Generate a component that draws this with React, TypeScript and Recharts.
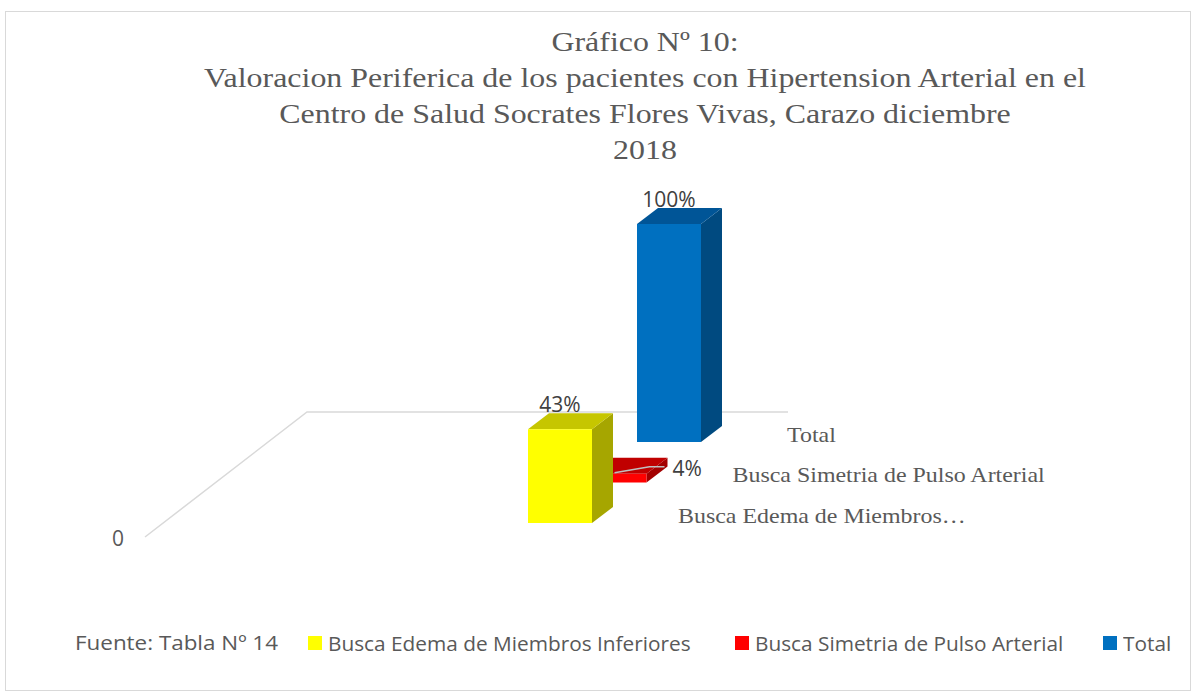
import React from 'react';
import { BarChart, Bar, XAxis, YAxis, ReferenceLine, LabelList } from 'recharts';

// series (Excel 3D column: one category, three series on the depth axis)
const SERIES = ['Busca Edema de Miembros Inferiores', 'Busca Simetria de Pulso Arterial', 'Total'];
const DEPTH_LABELS = ['Busca Edema de Miembros…', 'Busca Simetria de Pulso Arterial', 'Total'];
const VALUES = [0.43, 0.04, 1.0];
const CATEGORIES = ['Valoracion Periferica'];
const Y_TICKS = [0];

const FRONT = ['#FFFF00', '#FF0000', '#0070C0'];
const SIDE = ['#A6A600', '#A30000', '#004A80'];
const TOP = ['#C6C600', '#C00000', '#005597'];
const LABEL_MODE = ['top', 'right', 'top'];

const TITLE = [
  'Gráfico Nº 10:',
  'Valoracion Periferica de los pacientes con Hipertension Arterial en el',
  'Centro de Salud Socrates Flores Vivas, Carazo diciembre',
  '2018',
];
const SOURCE = 'Fuente: Tabla Nº 14';

const data = CATEGORIES.map((name) => {
  const row: Record<string, any> = { name };
  SERIES.forEach((s, i) => (row['s' + i] = VALUES[i]));
  return row;
});

// 3D projection
const BOX_DX = 21;
const BOX_DY = 16;
const STEP_X = 54.5;
const STEP_Y = 40.5;
const STRETCH = 1.14; // the original text is rendered a bit wide

const GRID = '#d9d9d9';
const TEXT = '#595959';
const SANS = '"Open Sans", "Liberation Sans", sans-serif';
const SERIF = '"Liberation Serif", "Times New Roman", serif';

const fmtPct = (v: number) => Math.round(v * 100) + '%';

const makeBox = (d: number) => (props: any) => {
  const { x, y, width, height } = props;
  const px = x + d * STEP_X;
  const py = y - d * STEP_Y;
  const r = px + width;
  const b = py + height;
  return (
    <g>
      <polygon
        points={`${r},${py} ${r + BOX_DX},${py - BOX_DY} ${r + BOX_DX},${b - BOX_DY} ${r},${b}`}
        fill={SIDE[d]}
      />
      <polygon
        points={`${px},${py} ${px + BOX_DX},${py - BOX_DY} ${r + BOX_DX},${py - BOX_DY} ${r},${py}`}
        fill={TOP[d]}
      />
      <rect x={px} y={py} width={width} height={height} fill={FRONT[d]} />
    </g>
  );
};

const makeValueLabel = (d: number) => (props: any) => {
  const { x, y, width, value } = props;
  const px = x + d * STEP_X;
  const py = y - d * STEP_Y;
  const cx = px + width / 2;
  if (LABEL_MODE[d] === 'right') {
    return (
      <g>
        <polyline
          points={`${cx},${py - 1} ${cx + 35},${py - 7} ${cx + 50},${py - 7}`}
          fill="none"
          stroke="#bfbfbf"
          strokeWidth={1.5}
        />
        <text x={cx + 58} y={py - 6} dominantBaseline="central" fill="#404040" fontFamily={SANS} fontSize={21}>
          {fmtPct(value)}
        </text>
      </g>
    );
  }
  return (
    <text x={cx} y={py - 25} textAnchor="middle" dominantBaseline="central" fill="#404040" fontFamily={SANS} fontSize={21}>
      {fmtPct(value)}
    </text>
  );
};

const makeDepthLabel = (d: number) => (props: any) => {
  const { x, y, width, height } = props;
  const px = x + d * STEP_X;
  const py = y - d * STEP_Y;
  return (
    <text
      transform={`translate(${px + width + 86},${py + height - 7}) scale(${STRETCH},1)`}
      dominantBaseline="central"
      fill={TEXT}
      fontFamily={SERIF}
      fontSize={21}
    >
      {DEPTH_LABELS[d]}
    </text>
  );
};

// floor / side wall edges of the 3D plot, plus the "0" tick
const Floor = (props: any) => {
  const { x1, y1 } = props;
  return (
    <g>
      <polyline
        points={`${x1},${y1 + 14} ${x1 + 162},${y1 - 111} ${x1 + 643},${y1 - 111}`}
        fill="none"
        stroke={GRID}
        strokeWidth={1.5}
      />
      <text x={x1 - 27} y={y1 + 15} textAnchor="middle" dominantBaseline="central" fill={TEXT} fontFamily={SANS} fontSize={21}>
        {Y_TICKS[0]}
      </text>
    </g>
  );
};

const order = [2, 1, 0]; // back to front
const LEGEND_LEFT = [308, 735, 1103];

export default function App() {
  return (
    <div style={{ position: 'absolute', left: 0, top: 0, width: 1193, height: 695, background: '#fff', overflow: 'hidden' }}>
      <div
        style={{
          position: 'absolute',
          left: 5,
          top: 11,
          width: 1184,
          height: 678,
          border: `1.5px solid ${GRID}`,
        }}
      />
      <div
        style={{
          position: 'absolute',
          left: 145,
          top: 24,
          width: 1000,
          textAlign: 'center',
          fontFamily: SERIF,
          fontSize: 28,
          lineHeight: '36px',
          color: TEXT,
          transform: `scaleX(${STRETCH})`,
          transformOrigin: '500px 0',
        }}
      >
        {TITLE.map((t) => (
          <div key={t}>{t}</div>
        ))}
      </div>
      <div style={{ position: 'absolute', left: 0, top: 0 }}>
        <BarChart width={1193} height={695} data={data} margin={{ top: 305, right: 218, bottom: 172, left: 145 }}>
          {order.map((d) => (
            <XAxis key={'x' + d} xAxisId={d} dataKey="name" hide />
          ))}
          <YAxis domain={[0, 1]} ticks={Y_TICKS} hide />
          <ReferenceLine y={0} xAxisId={0} shape={<Floor />} zIndex={-100} />
          {order.map((d) => (
            <Bar
              key={'b' + d}
              xAxisId={d}
              dataKey={'s' + d}
              name={SERIES[d]}
              barSize={64}
              fill={FRONT[d]}
              shape={makeBox(d)}
              isAnimationActive={false}
            >
              <LabelList dataKey={'s' + d} content={makeValueLabel(d)} />
              <LabelList dataKey={'s' + d} content={makeDepthLabel(d)} />
            </Bar>
          ))}
        </BarChart>
      </div>
      <div style={{ position: 'absolute', left: 0, top: 628, width: 1193, height: 30, fontFamily: SANS, fontSize: 20, color: TEXT }}>
        <span
          style={{
            position: 'absolute',
            left: 75,
            top: 0,
            lineHeight: '30px',
            whiteSpace: 'nowrap',
            transform: 'scaleX(1.12)',
            transformOrigin: '0 0',
          }}
        >
          {SOURCE}
        </span>
        {SERIES.map((s, i) => (
          <span
            key={s}
            style={{ position: 'absolute', left: LEGEND_LEFT[i], top: 0, height: 30, display: 'flex', alignItems: 'center', whiteSpace: 'nowrap' }}
          >
            <span style={{ width: 14, height: 14, background: FRONT[i], marginRight: 6, display: 'inline-block' }} />
            <span style={{ display: 'inline-block', transform: 'scaleX(1.04)', transformOrigin: '0 0' }}>{s}</span>
          </span>
        ))}
      </div>
    </div>
  );
}
